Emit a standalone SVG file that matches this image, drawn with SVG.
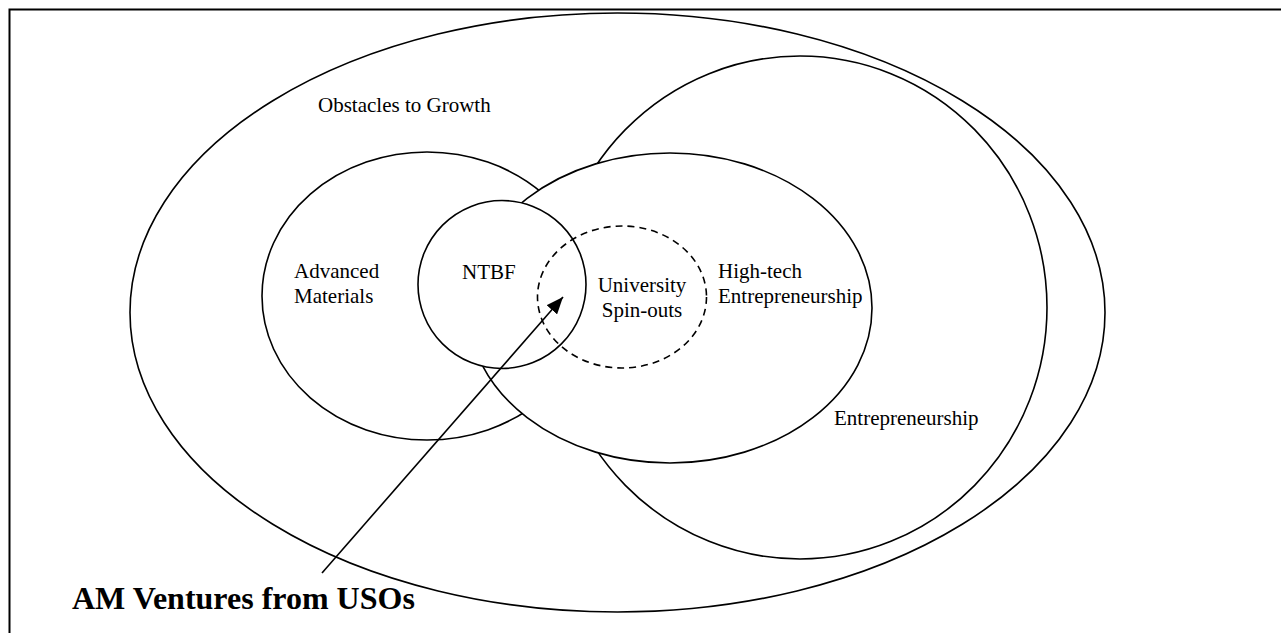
<svg xmlns="http://www.w3.org/2000/svg" width="1281" height="633" viewBox="0 0 1281 633">
<style>
.sh{fill:#fff;stroke:#000;stroke-width:1.6}
.dash{fill:none;stroke-dasharray:7 5}
.t{font-family:"Liberation Serif","Times New Roman",serif;font-size:21px;fill:#000}
.b{font-family:"Liberation Serif","Times New Roman",serif;font-size:32px;font-weight:bold;fill:#000}
</style>
<defs>
<marker id="ah" markerWidth="18" markerHeight="14" refX="17" refY="7" orient="auto" markerUnits="userSpaceOnUse">
<polygon points="0,0 17,7 0,14" fill="#000"/>
</marker>
</defs>
<rect width="1281" height="633" fill="#fff"/>
<path d="M9.5,633 V9.5 H1281" fill="none" stroke="#000" stroke-width="2"/>
<g id="obstacles">
<ellipse class="sh" cx="617.5" cy="312.5" rx="487.5" ry="299.5"/>
<text class="t" x="318" y="112">Obstacles to Growth</text>
</g>
<g id="entrepreneurship">
<ellipse class="sh" cx="800" cy="307.5" rx="247" ry="251.5"/>
<text class="t" x="834" y="425">Entrepreneurship</text>
</g>
<g id="advanced-materials">
<ellipse class="sh" cx="427" cy="296" rx="165" ry="144"/>
<text class="t" x="294" y="278">Advanced</text>
<text class="t" x="294" y="303">Materials</text>
</g>
<g id="high-tech">
<ellipse class="sh" cx="670" cy="308" rx="202" ry="155"/>
<text class="t" x="718" y="278">High-tech</text>
<text class="t" x="718" y="303">Entrepreneurship</text>
</g>
<g id="ntbf">
<circle class="sh" cx="502" cy="284.5" r="84"/>
<text class="t" x="462" y="279">NTBF</text>
</g>
<g id="university-spinouts">
<ellipse class="sh dash" cx="622" cy="297" rx="84.5" ry="71"/>
<text class="t" x="642" y="292" text-anchor="middle">University</text>
<text class="t" x="642" y="317" text-anchor="middle">Spin-outs</text>
</g>
<g id="connectors">
<line x1="322" y1="573" x2="563" y2="297" stroke="#000" stroke-width="1.6" marker-end="url(#ah)"/>
</g>
<g id="am-ventures">
<text class="b" x="72" y="609">AM Ventures from USOs</text>
</g>
</svg>
